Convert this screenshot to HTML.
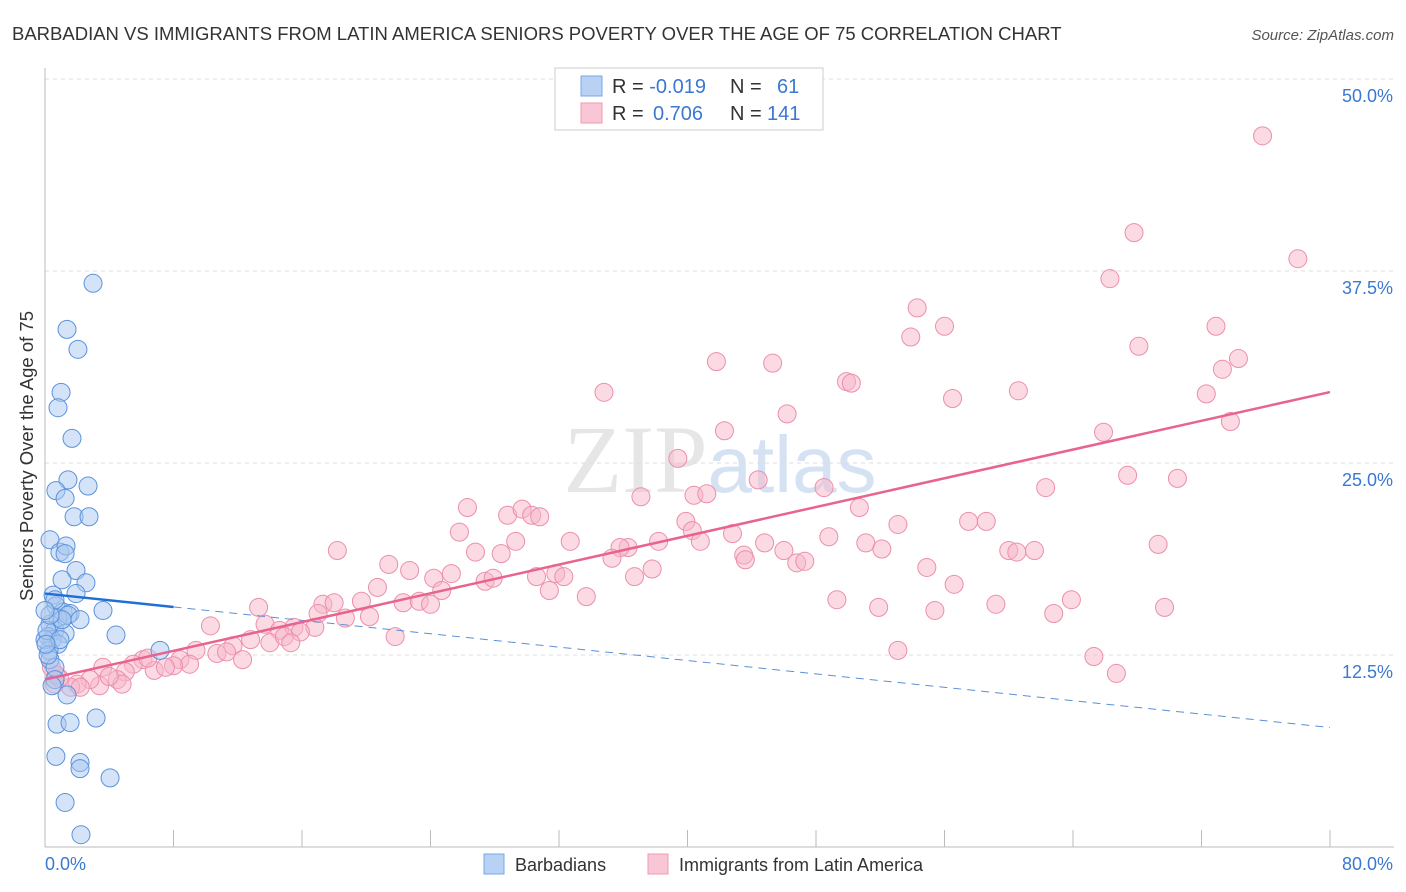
<!DOCTYPE html>
<html><head><meta charset="utf-8">
<style>
body{margin:0;background:#fff;font-family:"Liberation Sans",sans-serif;}
svg{display:block}
</style></head>
<body>
<svg id="chart" width="1406" height="892" xmlns="http://www.w3.org/2000/svg">
<text x="12" y="40" font-size="18.5" fill="#333">BARBADIAN VS IMMIGRANTS FROM LATIN AMERICA SENIORS POVERTY OVER THE AGE OF 75 CORRELATION CHART</text>
<text x="1394" y="40" font-size="15" fill="#555" font-style="italic" text-anchor="end">Source: ZipAtlas.com</text>
<text x="720" y="492" font-size="96" fill="#e6e6e6" text-anchor="middle" font-family="Liberation Serif, serif">ZIP<tspan fill="#d5e2f3" font-family="Liberation Sans, sans-serif" font-size="80">atlas</tspan></text>
<g id="grid"></g><g id="axes"></g><g id="pts"></g><g id="trend"></g>
<text transform="translate(33,456) rotate(-90)" font-size="18.5" fill="#333" text-anchor="middle">Seniors Poverty Over the Age of 75</text>
<text x="45" y="870" font-size="18" fill="#3b78d0">0.0%</text>
<text x="1393" y="870" font-size="18" fill="#3b78d0" text-anchor="end">80.0%</text>
<g>
<rect x="555" y="68" width="268" height="62" fill="#fff" stroke="#ccc"/>
<rect x="581" y="76" width="21" height="20" fill="#b7d2f5" stroke="#7aa7e6"/>
<rect x="581" y="103" width="21" height="20" fill="#f9c6d5" stroke="#ef9ab4"/>
<text x="612" y="93" font-size="20" fill="#333">R = <tspan fill="#3b78d0">-0.019</tspan><tspan x="730">N = </tspan><tspan x="777" fill="#3b78d0">61</tspan></text>
<text x="612" y="120" font-size="20" fill="#333">R = <tspan x="653" fill="#3b78d0">0.706</tspan><tspan x="730">N = </tspan><tspan x="767" fill="#3b78d0">141</tspan></text>
</g>
<g>
<rect x="484" y="854" width="20" height="20" fill="#b7d2f5" stroke="#7aa7e6"/>
<text x="515" y="871" font-size="18" fill="#333">Barbadians</text>
<rect x="648" y="854" width="20" height="20" fill="#f9c6d5" stroke="#ef9ab4"/>
<text x="679" y="871" font-size="18" fill="#333">Immigrants from Latin America</text>
</g>
</svg>
<script>
const yTicks=[12.5,25.0,37.5,50.0];
const blueX=[2.99,1.37,2.05,1.0,0.81,1.68,2.68,1.43,0.68,1.25,1.81,2.74,0.31,0.93,1.31,1.25,1.93,1.06,2.55,0.5,1.93,0.68,1.12,1.56,3.61,0.81,1.43,2.18,0.31,0.62,1.25,0.19,0.44,0.81,0.25,0.0,4.42,7.16,0.31,0.62,0.62,1.37,0.75,1.56,3.18,0.68,2.18,2.18,4.05,1.25,2.24,0.12,0.93,1.06,0.19,0.31,0.62,0.06,0.44,0];
const blueY=[36.7,33.7,32.4,29.6,28.6,26.6,23.5,23.9,23.2,22.7,21.5,21.5,20.0,19.2,19.6,19.1,18.0,17.4,17.2,16.4,16.5,15.7,15.3,15.2,15.4,14.9,15.1,14.8,14.5,14.1,13.9,13.7,13.5,13.2,12.8,13.5,13.8,12.8,12.2,11.7,10.9,9.9,8.0,8.1,8.4,5.9,5.5,5.1,4.5,2.9,0.8,14.1,13.5,14.8,12.5,15.1,16.1,13.2,10.5,15.4];
const pinkX=[75.8,67.8,78.0,66.3,54.3,56.0,53.9,72.9,68.1,74.3,73.3,41.8,45.3,49.9,50.2,34.8,60.6,56.5,72.3,46.2,42.3,73.8,65.9,39.4,44.4,48.5,67.4,70.5,37.1,40.4,41.2,62.3,26.3,28.8,29.7,30.3,30.8,39.9,40.3,50.7,53.1,57.5,58.6,25.8,29.3,32.7,36.3,35.8,38.2,40.8,42.8,44.8,46.0,48.8,51.1,52.1,60.0,61.6,60.5,69.3,26.8,28.4,43.5,43.6,46.8,47.3,35.3,31.8,30.6,32.3,21.4,22.7,24.2,25.3,27.4,27.9,36.7,37.8,54.9,20.7,24.7,31.4,33.7,49.3,56.6,51.9,55.4,59.2,63.9,62.8,69.7,13.3,17.3,18.0,19.7,22.3,23.3,24.0,17.0,18.7,20.2,10.3,13.7,14.6,15.5,16.8,15.9,21.8,12.8,11.7,14.0,14.9,15.3,9.4,10.7,11.3,8.4,9.0,8.0,12.3,6.1,6.8,7.5,5.5,3.6,5.0,4.5,3.4,2.8,2.0,1.6,0.9,0.4,0.6,4.8,6.4,53.1,65.3,66.7,0.7,2.2,4.0,18.2];
const pinkY=[46.3,40.0,38.3,37.0,35.1,33.9,33.2,33.9,32.6,31.8,31.1,31.6,31.5,30.3,30.2,29.6,29.7,29.2,29.5,28.2,27.1,27.7,27.0,25.3,23.9,23.4,24.2,24.0,22.8,22.9,23.0,23.4,22.1,21.6,22.0,21.6,21.5,21.2,20.6,22.1,21.0,21.2,21.2,20.5,19.9,19.9,19.5,19.5,19.9,19.9,20.4,19.8,19.3,20.2,19.8,19.4,19.3,19.3,19.2,19.7,19.2,19.1,19.0,18.7,18.5,18.6,18.8,17.8,17.6,17.6,18.4,18.0,17.5,17.8,17.3,17.5,17.6,18.1,18.2,16.9,16.7,16.7,16.3,16.1,17.1,15.6,15.4,15.8,16.1,15.2,15.6,15.6,15.8,15.9,16.0,15.9,16.0,15.8,15.2,14.9,15.0,14.4,14.5,14.1,14.3,14.3,14.0,13.7,13.5,13.1,13.3,13.7,13.3,12.8,12.6,12.7,12.2,11.9,11.8,12.2,12.2,11.5,11.7,11.9,11.7,11.4,10.9,10.5,10.9,10.6,10.4,11.0,11.7,10.6,10.6,12.3,12.8,12.4,11.3,11.2,10.4,11.1,19.3];
const blueTrend=[16.5,-0.109];
const pinkTrend=[10.9,0.234];
const NS="http://www.w3.org/2000/svg";
const xs=v=>45+v/80*1285;
const ys=v=>847-v/12.5*192;
function mk(tag,attrs,parent){const e=document.createElementNS(NS,tag);for(const k in attrs)e.setAttribute(k,attrs[k]);parent.appendChild(e);return e;}
const grid=document.getElementById('grid'),axes=document.getElementById('axes'),pts=document.getElementById('pts'),tr=document.getElementById('trend');
mk('line',{x1:45,y1:79,x2:1394,y2:79,stroke:'#ddd','stroke-dasharray':'4,4'},grid);
yTicks.forEach(t=>{
  const l=mk('line',{x1:45,y1:ys(t),x2:1394,y2:ys(t),stroke:'#ddd','stroke-dasharray':'4,4'},grid);
  
  
  const tx=mk('text',{x:1393,y:ys(t)+23,'font-size':18,fill:'#3b78d0','text-anchor':'end'},axes);
  tx.textContent=t.toFixed(1)+'%';
  
  
});
mk('line',{x1:45,y1:68,x2:45,y2:847,stroke:'#bbb'},axes);
mk('line',{x1:45,y1:847,x2:1394,y2:847,stroke:'#bbb'},axes);
for(let i=1;i<=10;i++){mk('line',{x1:xs(i*8),y1:830,x2:xs(i*8),y2:847,stroke:'#bbb'},axes);}
function dots(X,Y,fill,stroke,name){X.forEach((x,i)=>{
  const c=mk('circle',{cx:xs(x),cy:ys(Y[i]),r:9,fill:fill,'fill-opacity':0.5,stroke:stroke,'stroke-width':1},pts);
  
  
});}
dots(pinkX,pinkY,'#f7b6c9','#ec8fab','latin-america-point');
dots(blueX,blueY,'#a9c8f0','#5b93dc','barbadian-point');
const bl=v=>blueTrend[0]+blueTrend[1]*v, pl=v=>pinkTrend[0]+pinkTrend[1]*v;
let e=mk('line',{x1:xs(8),y1:ys(bl(8)),x2:xs(80),y2:ys(bl(80)),stroke:'#5b8fd6','stroke-width':1,'stroke-dasharray':'8,6'},tr);


e=mk('line',{x1:xs(0),y1:ys(bl(0)),x2:xs(8),y2:ys(bl(8)),stroke:'#1f6fd6','stroke-width':2.5},tr);


e=mk('line',{x1:xs(0),y1:ys(pl(0)),x2:xs(80),y2:ys(pl(80)),stroke:'#e8638f','stroke-width':2.5},tr);


</script>
</body></html>
